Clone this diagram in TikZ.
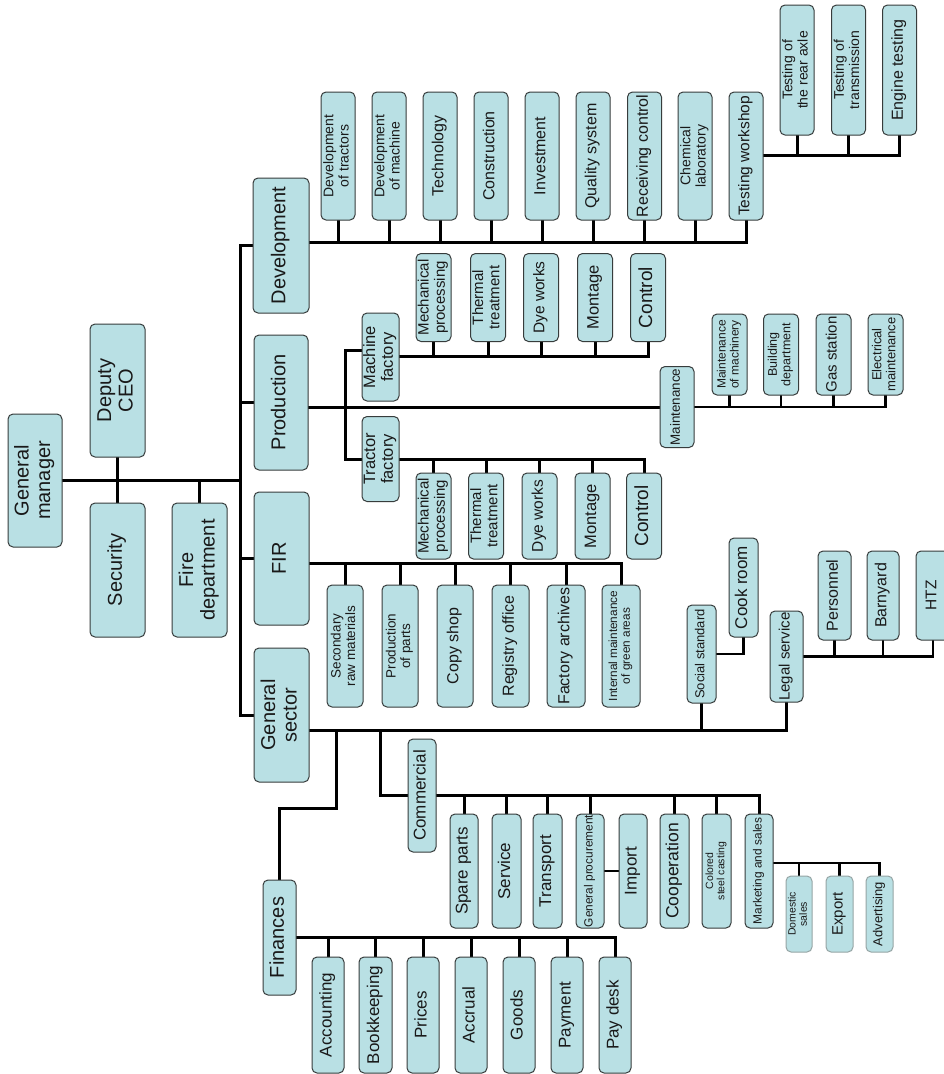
\documentclass[tikz,border=0pt]{standalone}
\usepackage{fontspec}
\setmainfont{Liberation Sans}
\usepackage{graphicx}
\usetikzlibrary{backgrounds}
\definecolor{boxfill}{RGB}{185,224,228}
\definecolor{boxline}{RGB}{55,60,60}
\definecolor{lightline}{RGB}{150,165,165}
\definecolor{txt}{RGB}{25,25,25}
\tikzset{
  obox/.style={draw=boxline, fill=boxfill, rounded corners=5pt, line width=1pt, inner sep=0pt, text=txt},
  lightbox/.style={draw=lightline},
  conn/.style={line width=3pt, line cap=rect, line join=miter, draw=black},
  connthin/.style={line width=2.4pt, line cap=rect, line join=miter, draw=black}
}
\newcommand\orgbox[8][]{\node[obox,#1,minimum width=#5pt,minimum height=#6pt] (#2) at (#3,#4) {\rotatebox{90}{\fontsize{#7}{\fpeval{#7*1.08}}\selectfont\begin{tabular}{@{}c@{}}#8\end{tabular}}};}
\begin{document}
\begin{tikzpicture}[x=1pt,y=-1pt]
\useasboundingbox (0,0) rectangle (944,1074);
% top level
\orgbox{gm}{35}{480.5}{54}{133}{20}{General\\manager}
\orgbox{dep}{117.5}{390.5}{55}{133}{20}{Deputy\\CEO}
\orgbox{sec}{117.5}{570}{55}{134}{20}{Security}
\orgbox{fire}{199.5}{570}{55}{134}{20}{Fire\\department}
\orgbox{dev}{281}{245.5}{56}{135}{20}{Development}
\orgbox{prod}{281}{402.5}{54}{135}{20}{Production}
\orgbox{fir}{281.5}{558.5}{55}{133}{20}{FIR}
\orgbox{gs}{281.5}{715}{55}{134}{20}{General\\sector}
% development
\orgbox{dtr}{338}{156}{34}{128}{14}{Development\\of tractors}
\orgbox{dma}{389}{156}{34}{128}{14}{Development\\of machine}
\orgbox{tech}{440}{156}{34}{128}{16}{Technology}
\orgbox{cons}{491}{156}{34}{128}{16}{Construction}
\orgbox{inv}{542}{156}{34}{128}{16}{Investment}
\orgbox{qual}{593}{156}{34}{128}{16}{Quality system}
\orgbox{recv}{644.5}{156}{34}{128}{16}{Receiving control}
\orgbox{chem}{695}{156}{34}{128}{14}{Chemical\\laboratory}
\orgbox{tw}{746}{156}{34}{128}{15.5}{Testing workshop}
\orgbox{tra}{797}{70}{34}{130}{14}{Testing of\\the rear axle}
\orgbox{ttr}{848.5}{70}{34}{130}{14}{Testing of\\transmission}
\orgbox{eng}{899.5}{70}{34}{130}{16}{Engine testing}
% production
\orgbox{mf}{380.5}{357}{37}{88}{16.5}{Machine\\factory}
\orgbox{tf}{380.5}{459}{37}{85}{16.5}{Tractor\\factory}
\orgbox{mmp}{433.5}{297.5}{35}{88}{15}{Mechanical\\processing}
\orgbox{mth}{488}{297.5}{35}{88}{15}{Thermal\\treatment}
\orgbox{mdy}{541}{297.5}{35}{88}{15.5}{Dye works}
\orgbox{mmo}{595}{297.5}{35}{88}{16.5}{Montage}
\orgbox{mct}{648}{297.5}{35}{88}{19}{Control}
\orgbox{tmp}{433.5}{516}{35}{86}{15}{Mechanical\\processing}
\orgbox{tth}{486}{516}{35}{86}{15}{Thermal\\treatment}
\orgbox{tdy}{539.5}{516}{35}{86}{15.5}{Dye works}
\orgbox{tmo}{592.5}{516}{35}{86}{16.5}{Montage}
\orgbox{tct}{644}{516}{35}{86}{19}{Control}
\orgbox{maint}{677}{407}{34}{81}{13.4}{Maintenance}
\orgbox{mm}{729.5}{354.5}{35}{81}{12}{Maintenance\\of machinery}
\orgbox{bd}{781}{354.5}{35}{81}{12.5}{Building\\department}
\orgbox{gas}{833.5}{354.5}{35}{81}{15}{Gas station}
\orgbox{el}{885.5}{354.5}{35}{81}{13}{Electrical\\maintenance}
% FIR
\orgbox{sr}{345}{646}{36}{122}{13.5}{Secondary\\raw materials}
\orgbox{pp}{400}{646}{36}{122}{13.5}{Production\\of parts}
\orgbox{cs}{455}{646}{36}{122}{16}{Copy shop}
\orgbox{ro}{510.5}{646}{37}{122}{16}{Registry office}
\orgbox{fa}{566}{646}{38}{122}{16}{Factory archives}
\orgbox{ig}{621}{646}{38}{122}{11.8}{Internal maintenance\\of green areas}
% general sector
\orgbox{soc}{701.5}{654}{29}{98}{13}{Social standard}
\orgbox{cook}{743.5}{587.5}{29}{99}{17}{Cook room}
\orgbox{legal}{786.5}{656.5}{33}{91}{15}{Legal service}
\orgbox{pers}{834.5}{595.5}{33}{89}{16}{Personnel}
\orgbox{barn}{883}{595.5}{32}{89}{16}{Barnyard}
\orgbox{htz}{933}{595.5}{34}{89}{15.5}{HTZ}
\orgbox{fin}{279.5}{937.5}{33}{115}{20}{Finances}
\orgbox{acc}{328}{1015}{32}{116}{17}{Accounting}
\orgbox{book}{375.5}{1015}{33}{116}{17}{Bookkeeping}
\orgbox{pri}{423}{1015}{32}{116}{17}{Prices}
\orgbox{accr}{471}{1015}{32}{116}{17}{Accrual}
\orgbox{goods}{519}{1015}{32}{116}{17}{Goods}
\orgbox{paym}{567}{1015}{32}{116}{17}{Payment}
\orgbox{desk}{615}{1015}{32}{116}{17}{Pay desk}
\orgbox{comm}{422}{795.5}{28}{113}{17}{Commercial}
\orgbox{spare}{464}{871}{28}{114}{17}{Spare parts}
\orgbox{serv}{506.5}{871}{29}{114}{17}{Service}
\orgbox{trans}{547.5}{871}{29}{114}{17}{Transport}
\orgbox{gp}{590}{871}{28}{114}{11.9}{General procurement}
\orgbox{imp}{633}{871}{28}{114}{17}{Import}
\orgbox{coop}{674.5}{871}{29}{114}{17.6}{Cooperation}
\orgbox{col}{716.5}{871}{29}{114}{10.5}{Colored\\steel casting}
\orgbox{mark}{759}{871}{28}{114}{11.9}{Marketing and sales}
\orgbox[lightbox]{dom}{799}{914}{26}{76}{10.5}{Domestic\\sales}
\orgbox[lightbox]{exp}{839.5}{914}{27}{76}{15}{Export}
\orgbox[lightbox]{adv}{879.5}{914}{27}{76}{13}{Advertising}
% connectors
\begin{pgfonlayer}{background}
\fill[white] (0,0) rectangle (944,1074);
\coordinate (tr) at (240,481);
\draw[conn] (gm.east) -- (gm.east -| tr);
\draw[conn] (dep.south) -- (sec.north);
\draw[conn] (fire.north) -- (fire.north |- gm.east);
\draw[conn] (dev.west) -- (dev.west -| tr) -- (gs.west -| tr) -- (gs.west);
\draw[conn] (prod.west) -- (prod.west -| tr);
\draw[conn] (fir.west) -- (fir.west -| tr);
% development bus
\coordinate (db) at (0,242);
\draw[conn] (dev.east |- db) -- (tw.south |- db);
\foreach \n in {dtr,dma,tech,cons,inv,qual,recv,chem,tw} \draw[conn] (\n.south) -- (\n.south |- db);
\coordinate (tb) at (0,155);
\draw[conn] (tw.east |- tb) -- (eng.south |- tb);
\foreach \n in {tra,ttr,eng} \draw[conn] (\n.south) -- (\n.south |- tb);
% production
\draw[conn] (prod.east |- maint.west) -- (maint.west);
\coordinate (fv) at (345,350);
\draw[conn] (mf.west |- fv) -- (fv) -- (fv |- tf.west) -- (tf.west);
\coordinate (mb) at (0,356);
\draw[conn] (mf.east |- mb) -- (mct.south |- mb);
\foreach \n in {mmp,mth,mdy,mmo,mct} \draw[conn] (\n.south) -- (\n.south |- mb);
\draw[conn] (tf.east) -- (tf.east -| tct.north);
\foreach \n in {tmp,tth,tdy,tmo,tct} \draw[conn] (\n.north) -- (\n.north |- tf.east);
\draw[connthin] (maint.east) -- (maint.east -| el.south);
\foreach \n in {mm,bd,gas,el} \draw[connthin] (\n.south) -- (\n.south |- maint.east);
% FIR
\coordinate (fb) at (0,563);
\draw[conn] (fir.east |- fb) -- (ig.north |- fb);
\foreach \n in {sr,pp,cs,ro,fa,ig} \draw[conn] (\n.north) -- (\n.north |- fb);
% general sector
\coordinate (gb) at (0,730);
\draw[conn] (gs.east |- gb) -- (legal.south |- gb);
\draw[conn] (soc.south) -- (soc.south |- gb);
\draw[conn] (legal.south) -- (legal.south |- gb);
\draw[connthin] (soc.east) -| (cook.south);
\draw[connthin] (legal.east) -- (legal.east -| htz.south);
\foreach \n in {pers,barn,htz} \draw[connthin] (\n.south) -- (\n.south |- legal.east);
\coordinate (fk) at (336,808);
\draw[conn] (fk |- gb) -- (fk) -- (fk -| fin.north) -- (fin.north);
\coordinate (ck) at (380,0);
\draw[conn] (ck |- gb) -- (ck |- comm.west) -- (comm.west);
\draw[conn] (comm.east) -- (comm.east -| mark.north);
\foreach \n in {spare,serv,trans,gp,coop,col,mark} \draw[conn] (\n.north) -- (\n.north |- comm.east);
\draw[connthin] (gp.east) -- (imp.west);
\coordinate (mkb) at (0,863);
\draw[connthin] (mark.east |- mkb) -- (adv.north |- mkb);
\foreach \n in {dom,exp,adv} \draw[connthin] (\n.north) -- (\n.north |- mkb);
\draw[conn] (fin.east) -- (fin.east -| desk.north);
\foreach \n in {acc,book,pri,accr,goods,paym,desk} \draw[conn] (\n.north) -- (\n.north |- fin.east);
\end{pgfonlayer}
\end{tikzpicture}
\end{document}
